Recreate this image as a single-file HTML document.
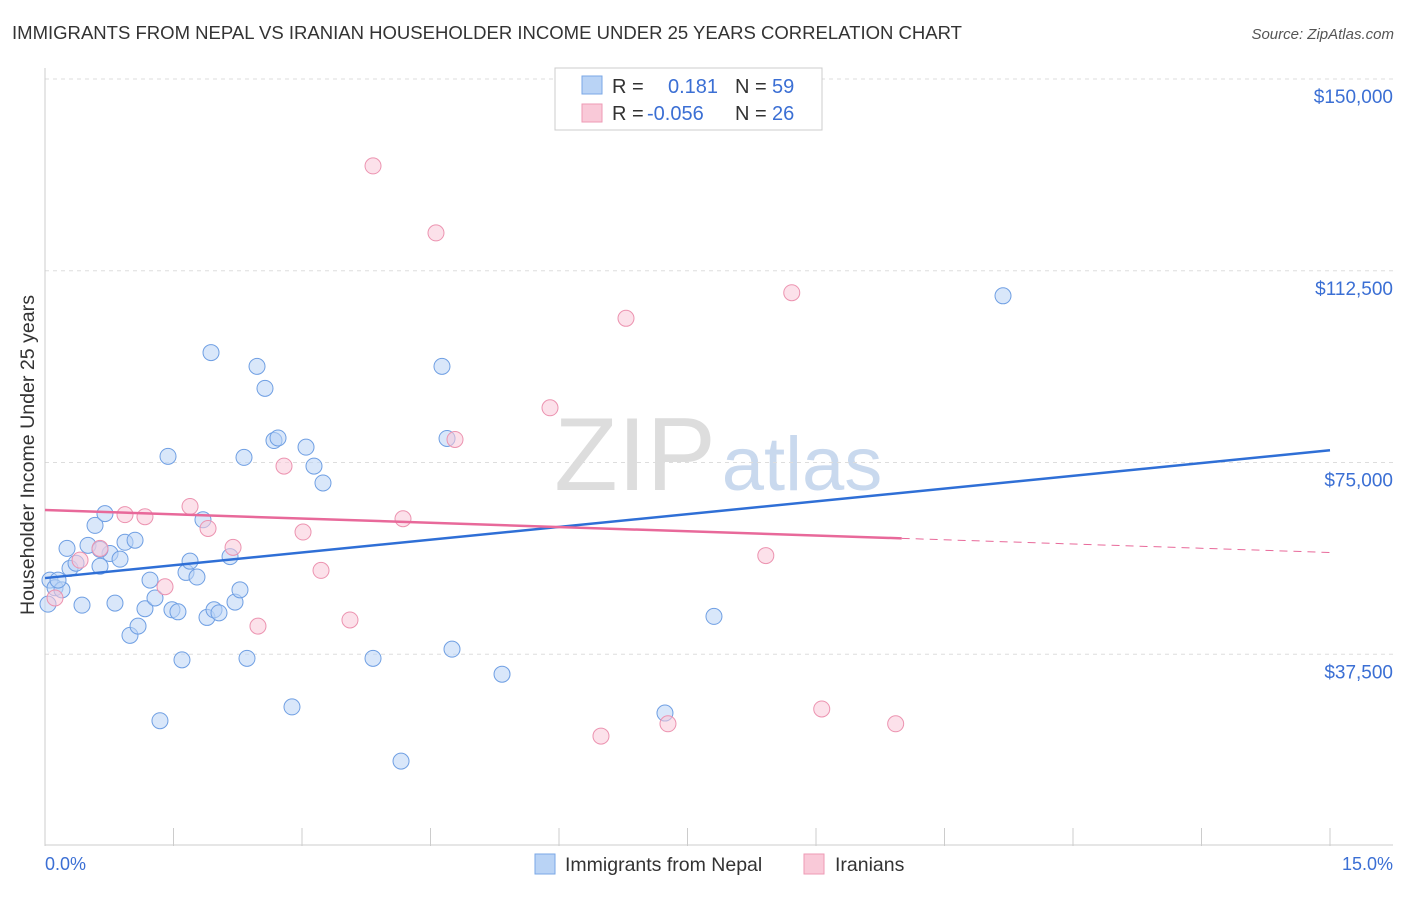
<!DOCTYPE html>
<html><head><meta charset="utf-8"><style>
body{margin:0;background:#fff;font-family:"Liberation Sans",sans-serif;}
svg text{font-family:"Liberation Sans",sans-serif;}
</style></head><body>
<svg id="chart" width="1406" height="892" xmlns="http://www.w3.org/2000/svg">
<text x="12" y="39" font-size="18" fill="#333" textLength="950" lengthAdjust="spacingAndGlyphs">IMMIGRANTS FROM NEPAL VS IRANIAN HOUSEHOLDER INCOME UNDER 25 YEARS CORRELATION CHART</text>
<text x="1394" y="39" font-size="15" fill="#555" font-style="italic" text-anchor="end">Source: ZipAtlas.com</text>
<text x="635" y="490" font-size="104" fill="#ddd" font-family="Liberation Serif" text-anchor="middle">ZIP</text>
<text x="802" y="490" font-size="76" fill="#c9d9ee" text-anchor="middle">atlas</text>
<g id="grid"></g><g id="axes"></g><g id="marks"></g>
<text transform="translate(34,455) rotate(-90)" font-size="19" fill="#333" text-anchor="middle" textLength="320" lengthAdjust="spacingAndGlyphs">Householder Income Under 25 years</text>
<text x="45" y="870" font-size="18" fill="#3b6fd4">0.0%</text>
<text x="1393" y="870" font-size="18" fill="#3b6fd4" text-anchor="end">15.0%</text>
<g>
<rect x="555" y="68" width="267" height="62" fill="#fff" stroke="#ccc"/>
<rect x="582" y="76" width="20" height="18" fill="#b9d3f5" stroke="#7aa7e6"/>
<rect x="582" y="104" width="20" height="18" fill="#f9c9d8" stroke="#ee9ab5"/>
<text x="612" y="93" font-size="20" fill="#333">R = </text><text x="668" y="93" font-size="20" fill="#3b6fd4">0.181</text>
<text x="735" y="93" font-size="20" fill="#333">N = </text><text x="772" y="93" font-size="20" fill="#3b6fd4">59</text>
<text x="612" y="120" font-size="20" fill="#333">R = </text><text x="647" y="120" font-size="20" fill="#3b6fd4">-0.056</text>
<text x="735" y="120" font-size="20" fill="#333">N = </text><text x="772" y="120" font-size="20" fill="#3b6fd4">26</text>
</g>
<g>
<rect x="535" y="854" width="20" height="20" fill="#b9d3f5" stroke="#7aa7e6"/>
<text x="565" y="871" font-size="19.5" fill="#333">Immigrants from Nepal</text>
<rect x="804" y="854" width="20" height="20" fill="#f9c9d8" stroke="#ee9ab5"/>
<text x="835" y="871" font-size="19.5" fill="#333">Iranians</text>
</g>
</svg>
<script>
const yTicks=[37500,75000,112500,150000];
const yTickLabels=["$37,500","$75,000","$112,500","$150,000"];
const nepalX=[0.058,0.117,0.198,0.257,0.292,0.362,0.432,0.502,0.584,0.642,0.700,0.759,0.817,0.876,0.934,0.992,1.051,1.086,1.167,1.226,1.284,1.342,1.436,1.482,1.552,1.599,1.646,1.693,1.774,1.844,1.891,1.938,1.973,2.031,2.160,2.218,2.276,2.323,2.358,2.475,2.568,2.673,2.720,2.883,3.047,3.140,3.245,3.829,4.156,4.634,4.693,4.751,5.335,7.237,7.809,11.183,0.035,0.152,0.642];
const nepalY=[52000,50500,50100,58200,54300,55300,47100,58800,62700,54700,65000,57200,47500,56100,59400,41200,59800,43000,46400,52000,48500,24500,76200,46200,45800,36400,53500,55700,52600,63800,44700,96500,46200,45600,56600,47700,50100,76000,36700,93800,89500,79300,79800,27200,78000,74300,71000,36700,16600,93800,79700,38500,33600,26000,44900,107600,47300,52000,58000];
const iranX=[0.117,0.409,0.642,0.934,1.167,1.401,1.693,1.903,2.195,2.486,2.790,3.012,3.222,3.560,3.829,4.179,4.564,4.786,5.895,6.490,6.782,7.272,8.414,8.717,9.067,9.930];
const iranY=[48500,55900,58200,64800,64400,50700,66400,62100,58400,43000,74300,61400,53900,44200,133000,64000,119900,79500,85700,21500,103200,23900,56800,108200,26800,23900];
const nepalTrend=[0,52400,15,77400];
const iranTrend=[0,65700,15,57400];
const iranSolidEnd=10;
const L=45,R=1330,T=79,B=846,XMAX=15,YREF=150000;
const xs=v=>L+v/XMAX*(R-L);
const ys=v=>B-v/YREF*(B-T);
const NS="http://www.w3.org/2000/svg";
function mk(p,tag,at){const e=document.createElementNS(NS,tag);for(const k in at)e.setAttribute(k,at[k]);p.appendChild(e);return e;}
const grid=document.getElementById('grid'),axes=document.getElementById('axes'),marks=document.getElementById('marks');
yTicks.forEach((t,i)=>{
 const g=mk(grid,'line',{x1:L,x2:1393,y1:ys(t),y2:ys(t),stroke:'#ddd','stroke-dasharray':'4,4'});
 
 
 const tx=mk(axes,'text',{x:1393,y:ys(t)+24,'font-size':19,fill:'#3b6fd4','text-anchor':'end'});
 tx.textContent=yTickLabels[i];
 
 
});
const ax=mk(axes,'line',{x1:L,x2:1393,y1:B-1,y2:B-1,stroke:'#ccc'});


const ay=mk(axes,'line',{x1:L,x2:L,y1:68,y2:B,stroke:'#ccc'});


for(let i=0;i<=10;i++){
 const tk=mk(axes,'line',{x1:xs(i*1.5),x2:xs(i*1.5),y1:828,y2:B,stroke:'#ccc'});
 
 
}
function dots(X,Y,fill,stroke,name){
 X.forEach((x,i)=>{
  const c=mk(marks,'circle',{cx:xs(x),cy:ys(Y[i]),r:8,fill:fill,'fill-opacity':0.55,stroke:stroke,'stroke-width':1});
  
  
 });
}
dots(nepalX,nepalY,'#b9d3f5','#6f9fe3','nepal-point');
dots(iranX,iranY,'#f9c9d8','#ec93b0','iranian-point');
const t1=mk(marks,'line',{x1:xs(nepalTrend[0]),y1:ys(nepalTrend[1]),x2:xs(nepalTrend[2]),y2:ys(nepalTrend[3]),stroke:'#2f6fd6','stroke-width':2.5});


const iy=x=>iranTrend[1]+(iranTrend[3]-iranTrend[1])*(x-iranTrend[0])/(iranTrend[2]-iranTrend[0]);
const t2=mk(marks,'line',{x1:xs(0),y1:ys(iy(0)),x2:xs(iranSolidEnd),y2:ys(iy(iranSolidEnd)),stroke:'#e8699a','stroke-width':2.5});


const t3=mk(marks,'line',{x1:xs(iranSolidEnd),y1:ys(iy(iranSolidEnd)),x2:xs(15),y2:ys(iy(15)),stroke:'#e8699a','stroke-width':1,'stroke-dasharray':'8,6'});


</script>
</body></html>
